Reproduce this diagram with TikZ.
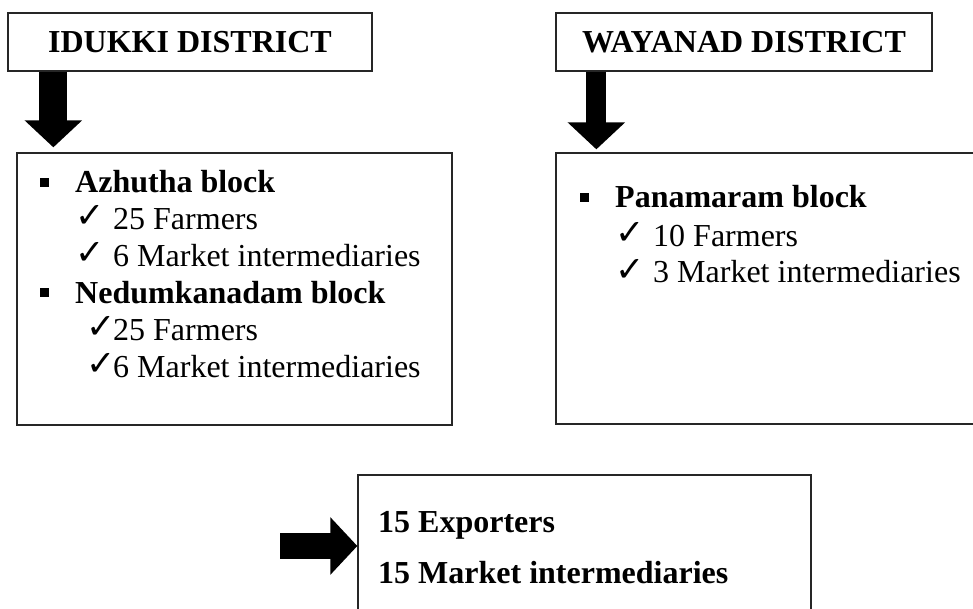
\documentclass[tikz,border=0pt]{standalone}
\usepackage{fontspec}
\setmainfont{Liberation Serif}
\newfontfamily\symfont{DejaVu Sans}
\usetikzlibrary{arrows.meta,positioning}

\begin{document}
\begin{tikzpicture}[x=1pt,y=-1pt,
  box/.style={draw=black!85,line width=1.3pt,rectangle,inner sep=0pt},
  head/.style={box,font=\fontsize{32}{38}\selectfont\bfseries},
  item/.style={anchor=base west,inner sep=0pt,font=\fontsize{32}{38}\selectfont},
  blk/.style={item,font=\fontsize{32}{38}\selectfont\bfseries},
  tick/.style={anchor=base west,inner sep=0pt,font=\fontsize{35}{40}\symfont},
  sq/.style={fill=black,minimum size=9pt,inner sep=0pt},
  bigarrow/.style={line width=#1,-{Triangle[length=27pt,width=56pt]}}]
  \path[use as bounding box] (0,0) rectangle (973,609);
  \clip (0,0) rectangle (973,609);

  % district boxes
  \node[head,minimum width=364pt,minimum height=58pt] (idukki)  at (190,42) {IDUKKI DISTRICT};
  \node[head,minimum width=376pt,minimum height=58pt] (wayanad) at (744,42) {WAYANAD DISTRICT};

  % block boxes
  \node[box,minimum width=435pt,minimum height=272pt] (leftbox)  at (234.5,289) {};
  \node[box,minimum width=444pt,minimum height=271pt] (rightbox) at (778,288.5) {};
  \node[box,minimum width=453pt,minimum height=185pt] (expbox)   at (584.5,567.5) {};

  % Idukki
  \node[sq]   (b1)  at (44.5,182.5) {};
  \node[blk]  (azh) at (75,193)  {Azhutha block};
  \node[tick] (t1)  at (75,228)  {✓};
  \node[item] (a1)  at (113,230) {25 Farmers};
  \node[tick] (t2)  at (75,265)  {✓};
  \node[item] (a2)  at (113,267) {6 Market intermediaries};
  \node[sq]   (b2)  at (44.5,292.5) {};
  \node[blk]  (ned) at (75,303)  {Nedumkanadam block};
  \node[tick] (t3)  at (86,338)  {✓};
  \node[item] (n1)  at (113,340) {25 Farmers};
  \node[tick] (t4)  at (86,375)  {✓};
  \node[item] (n2)  at (113,377) {6 Market intermediaries};

  % Wayanad
  \node[sq]   (b3)  at (584.5,197.5) {};
  \node[blk]  (pan) at (615,208) {Panamaram block};
  \node[tick] (t5)  at (615,245) {✓};
  \node[item] (p1)  at (653,247) {10 Farmers};
  \node[tick] (t6)  at (615,281) {✓};
  \node[item] (p2)  at (653,283) {3 Market intermediaries};

  % exporters
  \node[blk] (exp) at (378,532) {15 Exporters};
  \node[blk] (mi)  at (378,583) {15 Market intermediaries};

  \coordinate (feed) at (280,546);

  \draw[bigarrow=28pt,shorten >=5pt] ([xshift=46pt]idukki.south west) -- ([xshift=37pt]leftbox.north west);
  \draw[bigarrow=20pt,shorten >=3pt] ([xshift=41pt]wayanad.south west) -- ([xshift=41pt]rightbox.north west);
  \draw[bigarrow=26pt] (feed) -- (feed -| expbox.west);
\end{tikzpicture}
\end{document}
